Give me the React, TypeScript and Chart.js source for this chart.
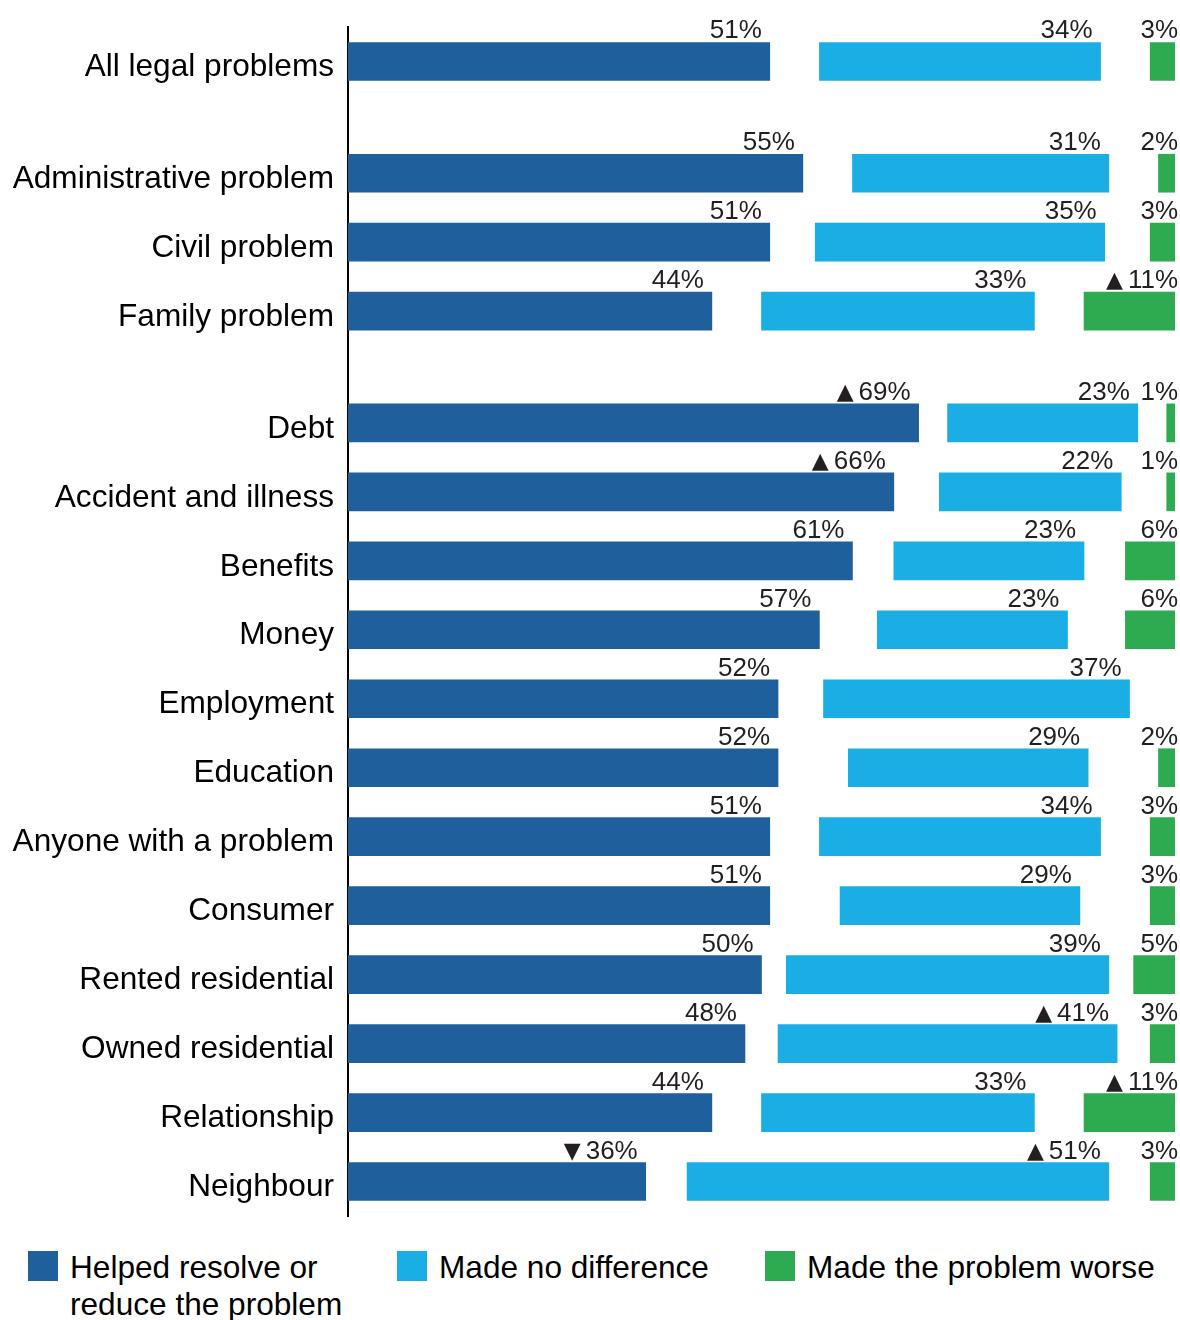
import React, { useEffect, useRef } from 'react';
import { Chart, registerables } from 'chart.js';

Chart.register(...registerables);

const categories = [
  'All legal problems',
  'Administrative problem',
  'Civil problem',
  'Family problem',
  'Debt',
  'Accident and illness',
  'Benefits',
  'Money',
  'Employment',
  'Education',
  'Anyone with a problem',
  'Consumer',
  'Rented residential',
  'Owned residential',
  'Relationship',
  'Neighbour',
];

// Number of rows in each visual group (All / by type / by category)
const groupSizes = [1, 3, 12];

const helped = [51, 55, 51, 44, 69, 66, 61, 57, 52, 52, 51, 51, 50, 48, 44, 36];
const noDifference = [34, 31, 35, 33, 23, 22, 23, 23, 37, 29, 34, 29, 39, 41, 33, 51];
const worse = [3, 2, 3, 11, 1, 1, 6, 6, 0, 2, 3, 3, 5, 3, 11, 3];

const helpedSig = ['', '', '', '', '▲', '▲', '', '', '', '', '', '', '', '', '', '▼'];
const noDiffSig = ['', '', '', '', '', '', '', '', '', '', '', '', '', '▲', '', '▲'];
const worseSig = ['', '', '', '▲', '', '', '', '', '', '', '', '', '', '', '▲', ''];

const legendLabels = ['Helped resolve or reduce the problem', 'Made no difference', 'Made the problem worse'];

const COLORS = { helped: '#1F5F9B', none: '#1BAEE4', worse: '#2EAA50' };
const FONT = '"Liberation Sans", Arial, Helvetica, sans-serif';
const GROUP_GAP = 0.62;

function rowPositions(): number[] {
  const out: number[] = [];
  let idx = 0;
  groupSizes.forEach((n, g) => {
    for (let k = 0; k < n; k++) {
      out.push(idx + g * GROUP_GAP);
      idx++;
    }
  });
  return out;
}

export default function App() {
  const ref = useRef<HTMLCanvasElement | null>(null);

  useEffect(() => {
    if (!ref.current) return;
    const positions = rowPositions();
    const rest = categories.map((_, i) => (100 - helped[i] - noDifference[i] - worse[i]) / 2);

    const mk = (vals: number[]) => vals.map((v, i) => ({ x: v === 0 ? null : v, y: positions[i] }));

    const valueLabels = {
      id: 'valueLabels',
      afterDatasetsDraw(chart: any) {
        const ctx = chart.ctx;
        ctx.save();
        ctx.fillStyle = '#231F20';
        ctx.textAlign = 'right';
        ctx.textBaseline = 'alphabetic';
        const specs = [
          { ds: 0, values: helped, sig: helpedSig, dx: -8 },
          { ds: 2, values: noDifference, sig: noDiffSig, dx: -8 },
          { ds: 4, values: worse, sig: worseSig, dx: 3 },
        ];
        specs.forEach((s) => {
          const meta = chart.getDatasetMeta(s.ds);
          meta.data.forEach((bar: any, i: number) => {
            const v = s.values[i];
            if (!v) return;
            const p = bar.getProps(['x', 'y', 'height'], true);
            const text = v + '%';
            const tx = p.x + s.dx;
            const ty = p.y - p.height / 2 - 4;
            ctx.font = `26px ${FONT}`;
            ctx.fillText(text, tx, ty);
            if (s.sig[i]) {
              const w = ctx.measureText(text).width;
              ctx.font = `22px "DejaVu Sans", ${FONT}`;
              ctx.fillText(s.sig[i], tx - w - 5, ty - 1);
            }
          });
        });
        ctx.restore();
      },
    };

    const common = { barThickness: 38, grouped: false, borderWidth: 0 };

    const chart = new Chart(ref.current, {
      type: 'bar',
      data: {
        datasets: [
          { label: legendLabels[0], data: mk(helped), backgroundColor: COLORS.helped, ...common },
          { label: 'gap1', data: mk(rest), backgroundColor: 'rgba(0,0,0,0)', ...common },
          { label: legendLabels[1], data: mk(noDifference), backgroundColor: COLORS.none, ...common },
          { label: 'gap2', data: mk(rest), backgroundColor: 'rgba(0,0,0,0)', ...common },
          { label: legendLabels[2], data: mk(worse), backgroundColor: COLORS.worse, ...common },
        ],
      },
      options: {
        indexAxis: 'y',
        animation: false,
        responsive: false,
        events: [],
        layout: { padding: { top: 27, bottom: 24, left: 0, right: 5 } },
        plugins: { legend: { display: false }, tooltip: { enabled: false }, title: { display: false } },
        scales: {
          x: {
            type: 'linear',
            stacked: true,
            min: 0,
            max: 100,
            display: false,
          },
          y: {
            type: 'linear',
            stacked: true,
            reverse: true,
            offset: false,
            bounds: 'data',
            min: -0.5,
            max: positions[positions.length - 1] + 0.5,
            afterBuildTicks: (scale: any) => {
              scale.ticks = positions.map((v) => ({ value: v }));
            },
            afterFit: (scale: any) => {
              scale.width = 348;
              scale.paddingTop = 0;
              scale.paddingBottom = 0;
            },
            ticks: {
              autoSkip: false,
              padding: 14,
              labelOffset: 6,
              color: '#000',
              font: { family: FONT, size: 31.6 },
              callback: (value: any) => {
                const i = positions.findIndex((p) => Math.abs(p - Number(value)) < 1e-6);
                return i >= 0 ? categories[i] : '';
              },
            },
            grid: { display: false, drawTicks: false, offset: false },
            border: { display: true, color: '#000', width: 2 },
          },
        },
      },
      plugins: [valueLabels],
    } as any);

    return () => chart.destroy();
  }, []);

  const legendColors = [COLORS.helped, COLORS.none, COLORS.worse];
  const legendX = [28, 397, 765];
  const legendWidths = [300, 340, 400];

  return (
    <div style={{ position: 'absolute', left: 0, top: 0, width: 1180, height: 1320, background: '#fff', overflow: 'hidden' }}>
      <canvas ref={ref} width={1180} height={1240} style={{ position: 'absolute', left: 0, top: 0, width: 1180, height: 1240 }} />
      {legendLabels.map((lab, i) => (
        <div key={lab} style={{ position: 'absolute', left: legendX[i], top: 1251, display: 'flex', alignItems: 'flex-start' }}>
          <div style={{ width: 30, height: 30, background: legendColors[i], flex: '0 0 auto' }} />
          <div
            style={{
              marginLeft: 12,
              marginTop: -2,
              width: legendWidths[i],
              fontFamily: FONT,
              fontSize: 31.6,
              lineHeight: '37px',
              color: '#000',
            }}
          >
            {lab}
          </div>
        </div>
      ))}
    </div>
  );
}
